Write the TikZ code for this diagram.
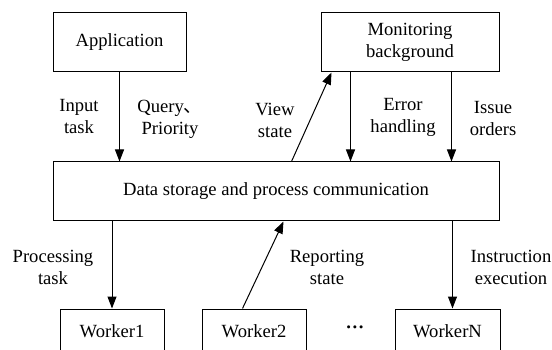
\documentclass[tikz,border=0pt]{standalone}
\usepackage{fontspec}
\setmainfont{LiberationSerif}[Extension=.ttf, UprightFont=*-Regular, BoldFont=*-Bold]
\newfontfamily\cjk{Noto Sans CJK SC}
\usetikzlibrary{arrows.meta,calc}
\begin{document}
\begin{tikzpicture}[x=1pt,y=-1pt,
  every node/.style={font=\rmfamily\fontsize{18.6}{22}\selectfont},
  box/.style={draw, line width=1pt, inner sep=0pt, align=center},
  lbl/.style={align=center, inner sep=0pt},
  flow/.style={line width=1pt, -{Triangle[length=12pt,width=9pt]}}]
\useasboundingbox (0,0) rectangle (552,350);
% top row
\node[box, minimum width=133, minimum height=59] (app) at (119.5,42.5) {Application};
\node[box, minimum width=178, minimum height=59] (mon) at (410,42.5) {Monitoring\\background};
% central store
\node[box, minimum width=446, minimum height=59] (data) at (276,191.5) {Data storage and process communication};
% workers
\node[box, minimum width=104, minimum height=44] (w1) at (112,331) {Worker1};
\node[box, minimum width=104, minimum height=44] (w2) at (254,331) {Worker2};
\node[box, minimum width=105, minimum height=44] (wn) at (447.5,331) {WorkerN};
\node[inner sep=0pt] (dots) at (355,330) {\textbf{···}};
% connectors between top row and store
\draw[flow] (app.south) -- (app.south |- data.north);
\draw[flow] ([xshift=239]data.north west) -- ([xshift=11]mon.south west);
\draw[flow] ([xshift=30]mon.south west) -- ([xshift=30]mon.south west |- data.north);
\draw[flow] ([xshift=131]mon.south west) -- ([xshift=131]mon.south west |- data.north);
% connectors between store and workers
\draw[flow] (w1.north |- data.south) -- (w1.north);
\draw[flow] ([xshift=41]w2.north west) -- ([xshift=231]data.south west);
\draw[flow] ([xshift=58]wn.north west |- data.south) -- ([xshift=58]wn.north west);
% labels
\node[lbl] (l1) at (79,117) {Input\\task};
\node[lbl] (l2) at (170,119) {Query{\cjk 、}\\Priority};
\node[lbl] (l3) at (275,120) {View\\state};
\node[lbl] (l4) at (403,117) {Error\\handling};
\node[lbl] (l5) at (493,119) {Issue\\orders};
\node[lbl] (l6) at (53,267) {Processing\\task};
\node[lbl] (l7) at (327,267) {Reporting\\state};
\node[lbl] (l8) at (511,267) {Instruction\\execution};
\end{tikzpicture}
\end{document}
